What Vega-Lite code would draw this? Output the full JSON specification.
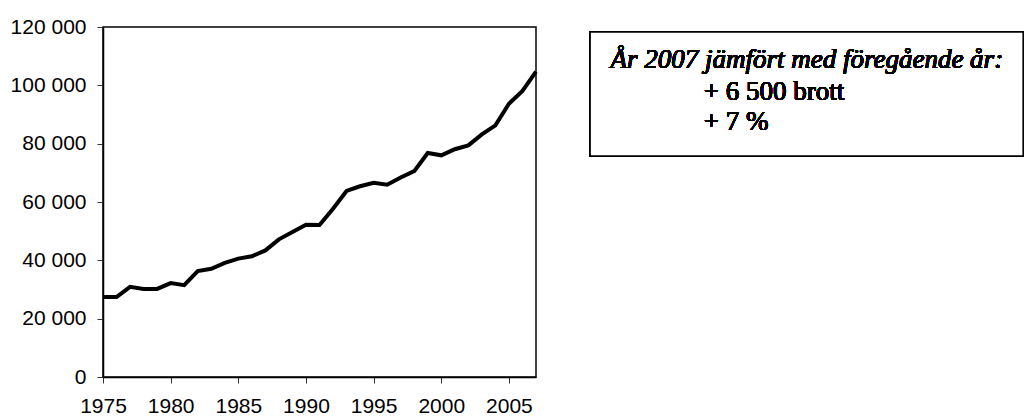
{
  "$schema": "https://vega.github.io/schema/vega-lite/v6.json",
  "width": 433,
  "height": 350,
  "autosize": "none",
  "padding": {"left": 103, "top": 27, "right": 492, "bottom": 39},
  "background": "white",
  "config": {
    "view": {"stroke": "black", "strokeWidth": 1.5},
    "axis": {
      "domainColor": "black",
      "domainWidth": 1.5,
      "tickColor": "#333333",
      "tickSize": 6,
      "tickWidth": 1,
      "grid": false,
      "labelFont": "Liberation Sans",
      "labelFontSize": 21,
      "labelColor": "black",
      "title": null
    }
  },
  "data": {
    "values": [
      {"year": 1975, "brott": 27400},
      {"year": 1976, "brott": 27400},
      {"year": 1977, "brott": 30900},
      {"year": 1978, "brott": 30200},
      {"year": 1979, "brott": 30200},
      {"year": 1980, "brott": 32200},
      {"year": 1981, "brott": 31500},
      {"year": 1982, "brott": 36300},
      {"year": 1983, "brott": 37100},
      {"year": 1984, "brott": 39100},
      {"year": 1985, "brott": 40600},
      {"year": 1986, "brott": 41400},
      {"year": 1987, "brott": 43400},
      {"year": 1988, "brott": 47200},
      {"year": 1989, "brott": 49700},
      {"year": 1990, "brott": 52200},
      {"year": 1991, "brott": 52100},
      {"year": 1992, "brott": 57700},
      {"year": 1993, "brott": 63800},
      {"year": 1994, "brott": 65400},
      {"year": 1995, "brott": 66600},
      {"year": 1996, "brott": 65900},
      {"year": 1997, "brott": 68400},
      {"year": 1998, "brott": 70600},
      {"year": 1999, "brott": 76800},
      {"year": 2000, "brott": 76000},
      {"year": 2001, "brott": 78100},
      {"year": 2002, "brott": 79400},
      {"year": 2003, "brott": 83200},
      {"year": 2004, "brott": 86300},
      {"year": 2005, "brott": 93700},
      {"year": 2006, "brott": 98100},
      {"year": 2007, "brott": 104700}
    ]
  },
  "layer": [
    {
      "mark": {"type": "line", "color": "black", "strokeWidth": 4, "clip": false},
      "encoding": {
        "x": {
          "field": "year",
          "type": "quantitative",
          "scale": {"domain": [1975, 2007], "nice": false, "zero": false},
          "axis": {
            "values": [1975, 1980, 1985, 1990, 1995, 2000, 2005],
            "format": "d",
            "labelPadding": 12,
            "labelFlush": false,
            "labelOverlap": false
          }
        },
        "y": {
          "field": "brott",
          "type": "quantitative",
          "scale": {"domain": [0, 120000], "nice": false},
          "axis": {
            "values": [0, 20000, 40000, 60000, 80000, 100000, 120000],
            "labelExpr": "replace(format(datum.value, ','), ',', ' ')",
            "labelPadding": 11,
            "labelFlush": false,
            "labelOverlap": false
          }
        }
      }
    },
    {
      "mark": {"type": "rect", "fill": "white", "stroke": "black", "strokeWidth": 1.5, "clip": false},
      "encoding": {
        "x": {"datum": 2011.0, "type": "quantitative", "scale": {"domain": [1975, 2007], "nice": false, "zero": false}},
        "x2": {"datum": 2043},
        "y": {"datum": 118290, "type": "quantitative", "scale": {"domain": [0, 120000], "nice": false}},
        "y2": {"datum": 75770}
      }
    },
    {
      "mark": {"type": "text", "font": "Times New Roman, Liberation Serif", "fontStyle": "italic", "fontWeight": "normal", "fontSize": 27, "align": "left", "baseline": "alphabetic", "fill": "black", "clip": false},
      "encoding": {
        "x": {"datum": 2012.5, "type": "quantitative", "scale": {"domain": [1975, 2007], "nice": false, "zero": false}},
        "y": {"datum": 105940, "type": "quantitative", "scale": {"domain": [0, 120000], "nice": false}},
        "text": {"value": "År 2007 jämfört med föregående år:"}
      }
    },
    {
      "mark": {"type": "text", "font": "Times New Roman, Liberation Serif", "fontWeight": "normal", "fontSize": 27, "align": "left", "baseline": "alphabetic", "fill": "black", "clip": false},
      "encoding": {
        "x": {"datum": 2019.4, "type": "quantitative", "scale": {"domain": [1975, 2007], "nice": false, "zero": false}},
        "y": {"datum": 94970, "type": "quantitative", "scale": {"domain": [0, 120000], "nice": false}},
        "text": {"value": "+ 6 500 brott"}
      }
    },
    {
      "mark": {"type": "text", "font": "Times New Roman, Liberation Serif", "fontWeight": "normal", "fontSize": 27, "align": "left", "baseline": "alphabetic", "fill": "black", "clip": false},
      "encoding": {
        "x": {"datum": 2019.4, "type": "quantitative", "scale": {"domain": [1975, 2007], "nice": false, "zero": false}},
        "y": {"datum": 84690, "type": "quantitative", "scale": {"domain": [0, 120000], "nice": false}},
        "text": {"value": "+ 7 %"}
      }
    }
  ]
}
